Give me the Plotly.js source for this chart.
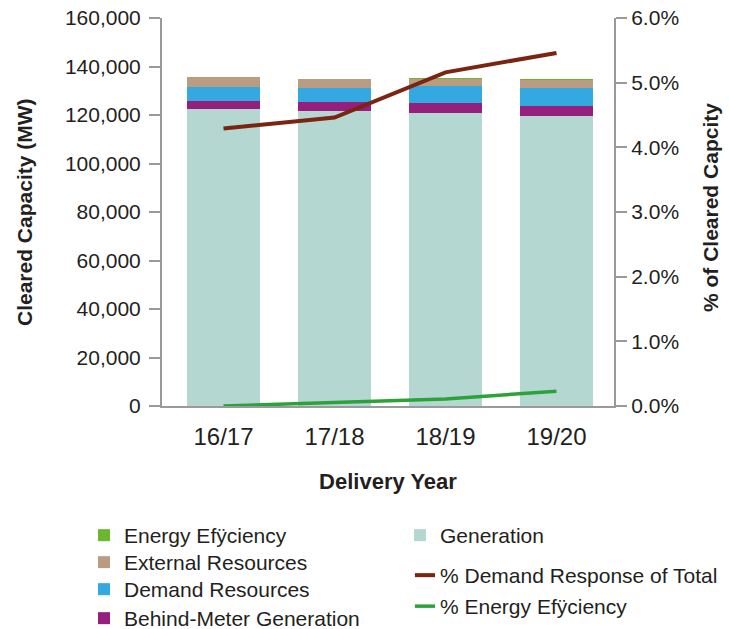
<!DOCTYPE html>
<html>
<head>
<meta charset="utf-8">
<script src="https://cdn.plot.ly/plotly-3.0.1.min.js"></script>
<style>
  html, body { margin: 0; padding: 0; background: #fff; }
  #chart { width: 729px; height: 629px; }
  #chart g.legendpoints path.legendbar {
    transform: translate(30px, 0px) scale(1.25);
  }
  #chart g.legendlines path.js-line {
    transform-box: fill-box; transform-origin: right center;
    transform: scaleX(0.67);
  }
</style>
</head>
<body>
<div id="chart"></div>
<script>
// ---- Data ----
const years = ["16/17", "17/18", "18/19", "19/20"];
const generation = [122500, 121600, 120800, 119600];
const behindMeter = [3300, 3700, 4100, 4100];
const demandResources = [5800, 5800, 7000, 7400];
const externalResources = [4100, 3700, 2900, 3300];
const energyEfficiency = [0, 80, 300, 400];
const pctDemandResponse = [0.0429, 0.0446, 0.0516, 0.0546];
const pctEnergyEfficiency = [0.0000, 0.0006, 0.0011, 0.0023];
const leftTitle = 'Cleared Capacity (MW)';
const rightTitle = '% of Cleared Capcity';

const FONT = '"Liberation Sans", Arial, sans-serif';
const TXT = '#231f20';

function barTrace(name, y, color, legend) {
  return { type: 'bar', name: name, x: years, y: y, width: 0.66,
    marker: { color: color, line: { width: 0 } }, legend: legend,
    hoverinfo: 'name+y' };
}

const traces = [
  barTrace('Generation', generation, '#b5d7d1', 'legend5'),
  barTrace('Behind-Meter Generation', behindMeter, '#941f7c', 'legend4'),
  barTrace('Demand Resources', demandResources, '#34a8e0', 'legend3'),
  barTrace('External Resources', externalResources, '#ba9c81', 'legend2'),
  barTrace('Energy Efÿciency', energyEfficiency, '#6cb630', 'legend'),
  { type: 'scatter', mode: 'lines', name: '% Demand Response of Total', x: years,
    y: pctDemandResponse, yaxis: 'y2', line: { color: '#7b2411', width: 4 }, legend: 'legend6' },
  { type: 'scatter', mode: 'lines', name: '% Energy Efÿciency', x: years,
    y: pctEnergyEfficiency, yaxis: 'y2', line: { color: '#2ca23a', width: 3.5 }, legend: 'legend7' }
];

// one legend per entry so each row sits exactly where the reference puts it
function leg(xPx, centerPx) {
  return { xref: 'container', yref: 'container', xanchor: 'left', yanchor: 'top',
    x: xPx / 729, y: 1 - (centerPx - 21) / 629,
    bgcolor: 'rgba(0,0,0,0)', font: { family: FONT, size: 21, color: TXT },
    orientation: 'v', itemclick: false, itemdoubleclick: false };
}

const titleFont = { family: FONT, size: 21, color: TXT, weight: 'bold' };

const layout = {
  width: 729, height: 629,
  margin: { l: 162, r: 115, t: 18, b: 223, pad: 0, autoexpand: false },
  paper_bgcolor: '#ffffff', plot_bgcolor: '#ffffff',
  font: { family: FONT, color: TXT },
  barmode: 'stack',
  showlegend: true,
  xaxis: {
    type: 'category', range: [-0.554, 3.518],
    showline: true, linecolor: '#9a9a9a', linewidth: 2,
    ticks: '', showgrid: false, zeroline: false,
    tickfont: { family: FONT, size: 24, color: TXT },
    ticklabelstandoff: 8,
    title: { text: 'Delivery Year', font: { family: FONT, size: 22, color: TXT, weight: 'bold' }, standoff: 25 }
  },
  yaxis: {
    range: [0, 160000], dtick: 20000, tickformat: ',d',
    showline: true, linecolor: '#9a9a9a', linewidth: 2,
    ticks: 'outside', ticklen: 11, tickcolor: '#9a9a9a', tickwidth: 2,
    ticklabelstandoff: 4,
    showgrid: false, zeroline: false,
    tickfont: { family: FONT, size: 21, color: TXT }
  },
  yaxis2: {
    overlaying: 'y', side: 'right',
    range: [0, 0.06], dtick: 0.01, tickformat: '.1%',
    showline: true, linecolor: '#9a9a9a', linewidth: 2,
    ticks: 'outside', ticklen: 11, tickcolor: '#9a9a9a', tickwidth: 2,
    showgrid: false, zeroline: false,
    tickfont: { family: FONT, size: 21, color: TXT }
  },
  annotations: [
    { text: leftTitle, xref: 'paper', yref: 'paper', x: (24 - 162) / 452, y: 0.5,
      xanchor: 'center', yanchor: 'middle', textangle: -90, showarrow: false, font: titleFont },
    { text: rightTitle, xref: 'paper', yref: 'paper', x: (710 - 162) / 452, y: (406 - 208) / 388,
      xanchor: 'center', yanchor: 'middle', textangle: -90, showarrow: false, font: titleFont }
  ],
  legend: leg(84, 536),
  legend2: leg(84, 563),
  legend3: leg(84, 590),
  legend4: leg(84, 619),
  legend5: leg(400, 536),
  legend6: leg(400, 576),
  legend7: leg(400, 607)
};

Plotly.newPlot('chart', traces, layout, { displayModeBar: false, staticPlot: true });
</script>
</body>
</html>
